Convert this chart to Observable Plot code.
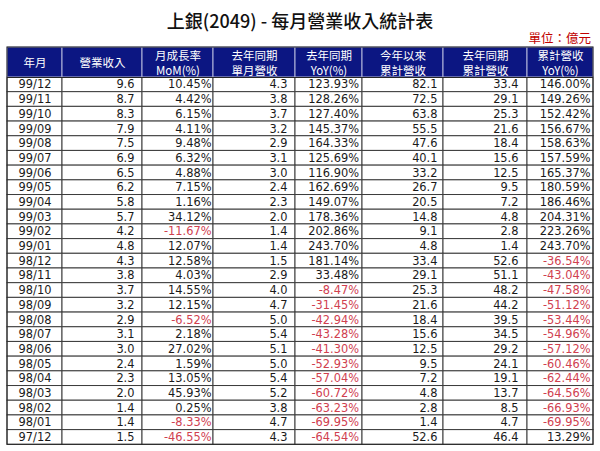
<!DOCTYPE html>
<html><head><meta charset="utf-8">
<script src="https://cdn.jsdelivr.net/npm/d3@7"></script>
<script src="https://cdn.jsdelivr.net/npm/@observablehq/plot@0.6"></script>
<style>
body{margin:0;background:#fff;width:600px;height:451px;overflow:hidden;}
#head{position:relative;height:46px;}
#title{position:absolute;left:0;right:0;top:9px;text-align:center;font-family:"Noto Sans CJK TC";font-weight:500;font-size:18px;line-height:22px;color:#111;}
#unit{position:absolute;right:9px;top:32px;font-family:"Noto Sans CJK TC";font-size:12.5px;line-height:12px;color:#c00000;}
#chart svg{display:block;}
</style></head><body>
<div id="head"><div id="title">上銀(2049) - 每月營業收入統計表</div><div id="unit">單位：億元</div></div>
<div id="chart"></div>
<script>
const months = ["99/12","99/11","99/10","99/09","99/08","99/07","99/06","99/05","99/04","99/03","99/02","99/01","98/12","98/11","98/10","98/09","98/08","98/07","98/06","98/05","98/04","98/03","98/02","98/01","97/12"];
const revenue = [9.6,8.7,8.3,7.9,7.5,6.9,6.5,6.2,5.8,5.7,4.2,4.8,4.3,3.8,3.7,3.2,2.9,3.1,3.0,2.4,2.3,2.0,1.4,1.4,1.5];
const mom = [10.45,4.42,6.15,4.11,9.48,6.32,4.88,7.15,1.16,34.12,-11.67,12.07,12.58,4.03,14.55,12.15,-6.52,2.18,27.02,1.59,13.05,45.93,0.25,-8.33,-46.55];
const lastYearRev = [4.3,3.8,3.7,3.2,2.9,3.1,3.0,2.4,2.3,2.0,1.4,1.4,1.5,2.9,4.0,4.7,5.0,5.4,5.1,5.0,5.4,5.2,3.8,4.7,4.3];
const yoy = [123.93,128.26,127.40,145.37,164.33,125.69,116.90,162.69,149.07,178.36,202.86,243.70,181.14,33.48,-8.47,-31.45,-42.94,-43.28,-41.30,-52.93,-57.04,-60.72,-63.23,-69.95,-64.54];
const ytd = [82.1,72.5,63.8,55.5,47.6,40.1,33.2,26.7,20.5,14.8,9.1,4.8,33.4,29.1,25.3,21.6,18.4,15.6,12.5,9.5,7.2,4.8,2.8,1.4,52.6];
const lastYtd = [33.4,29.1,25.3,21.6,18.4,15.6,12.5,9.5,7.2,4.8,2.8,1.4,52.6,51.1,48.2,44.2,39.5,34.5,29.2,24.1,19.1,13.7,8.5,4.7,46.4];
const ytdYoy = [146.00,149.26,152.42,156.67,158.63,157.59,165.37,180.59,186.46,204.31,223.26,243.70,-36.54,-43.04,-47.58,-51.12,-53.44,-54.96,-57.12,-60.46,-62.44,-64.56,-66.93,-69.95,13.29];
const headers = ["年月","營業收入","月成長率\nMoM(%)","去年同期\n單月營收","去年同期\nYoY(%)","今年以來\n累計營收","去年同期\n累計營收","累計營收\nYoY(%)"];

// layout (not data)
const edges = [7,62,142,213,295,362,443,527,593];
const pads = [0,8,2,8,3.5,6,9,3];
const headerRows = 2.04;
const series = [months, revenue, mom, lastYearRev, yoy, ytd, lastYtd, ytdYoy];
const kinds = ["label","num","pct","num","pct","num","num","pct"];

const cells = [];
for (let r = 0; r < months.length; r++) {
  for (let c = 0; c < series.length; c++) {
    const v = series[c][r];
    const k = kinds[c];
    cells.push({row: r, col: c, kind: k, value: v,
      label: k === "label" ? v : k === "num" ? v.toFixed(1) : v.toFixed(2) + "%",
      neg: k !== "label" && v < 0});
  }
}
const headerCells = headers.map((h, c) => ({col: c, text: h}));
const labelCells = cells.filter(d => d.kind === "label");
const numCells = cells.filter(d => d.kind !== "label");

const chart = Plot.plot({
  width: 600, height: 405, margin: 0,
  x: {type: "linear", domain: [0, 600], range: [0, 600], axis: null},
  y: {type: "linear", domain: [-headerRows, months.length], range: [1, 398.3], axis: null},
  style: {fontFamily: "DejaVu Sans", background: "white"},
  marks: [
    Plot.rect(cells, {x1: d => edges[d.col], x2: d => edges[d.col + 1], y1: d => d.row, y2: d => d.row + 1, fill: "white", stroke: "#3c3c3c", strokeWidth: 1}),
    Plot.rect(headerCells, {x1: d => edges[d.col], x2: d => edges[d.col + 1], y1: -headerRows, y2: 0, fill: "#0c1682", stroke: "#b4b8dc", strokeWidth: 1}),
    Plot.rect([0], {x1: edges[0], x2: edges[edges.length - 1], y1: -headerRows, y2: months.length, fill: "none", stroke: "#222", strokeWidth: 1}),
    Plot.ruleY([0], {x1: edges[0], x2: edges[edges.length - 1], stroke: "#222"}),
    Plot.text(headerCells, {x: d => (edges[d.col] + edges[d.col + 1]) / 2, y: -headerRows / 2, text: "text", fill: "white", fontFamily: "Noto Sans CJK TC", fontSize: 11.5, lineHeight: 1.3}),
    Plot.text(labelCells, {x: d => (edges[d.col] + edges[d.col + 1]) / 2, y: d => d.row + 0.5, text: "label", fill: "#1a1a1a", fontSize: 11.4}),
    Plot.text(numCells, {x: d => edges[d.col + 1] - pads[d.col], y: d => d.row + 0.5, text: "label", textAnchor: "end", fill: d => d.neg ? "#d0404f" : "#1a1a1a", fontSize: 11.4})
  ]
});
document.getElementById("chart").appendChild(chart);
</script>
</body></html>
